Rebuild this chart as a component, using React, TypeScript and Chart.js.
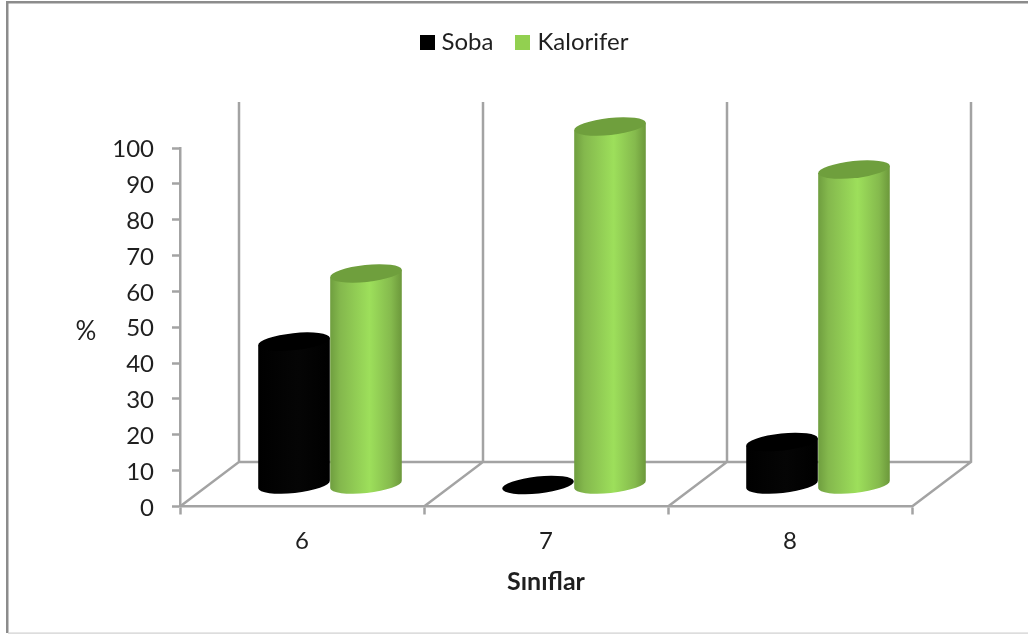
import React, { useEffect, useRef } from "react";
import { Chart, registerables } from "chart.js";

Chart.register(...registerables);

const categories = ["6", "7", "8"];
const sobaValues = [40, 0, 12];
const kaloriferValues = [59, 100, 88];
const seriesNames = ["Soba", "Kalorifer"];
const seriesColors = ["#000000", "#92d050"];
const xTitle = "Sınıflar";
const yTitle = "%";

const FONT = "Lato, Carlito, 'Open Sans', sans-serif";
const TEXT = "#1f1f1f";
const AXIS = "#a3a3a3";
const AXIS_WIDTH = 2.5;

// Oblique projection of the chart box.
const DEPTH_X = 59;
const DEPTH_Y = 44.5;
const WALL_EXTRA = 1.5;

// Offset of a cylinder axis from the front of the box: halfway into the floor.
const BAR_SHIFT_X = 28;
const BAR_SHIFT_Y = 21.5;
const TILT = (-6 * Math.PI) / 180;
const ELLIPSE_RY = 8.5;

// Horizontal offset that centres the legend over the walls rather than the scales.
const LEGEND_SHIFT = 20.5;
const LEGEND_BAND = 145;
const MARKER_SIZE = 15;

const greenStops: [number, string][] = [
  [0, "#6f9e3f"],
  [0.14, "#84b84d"],
  [0.55, "#9ddf5b"],
  [0.85, "#85ba4d"],
  [1, "#6c983b"],
];
const blackStops: [number, string][] = [
  [0, "#000000"],
  [0.55, "#050505"],
  [1, "#000000"],
];

function cylinder(
  ctx: CanvasRenderingContext2D,
  cx: number,
  topY: number,
  baseY: number,
  rx: number,
  stops: [number, string][],
  capColor: string
) {
  const ex = rx * Math.cos(TILT);
  const ey = rx * Math.sin(TILT);
  if (baseY - topY > 0.5) {
    const g = ctx.createLinearGradient(cx - ex, 0, cx + ex, 0);
    stops.forEach(([p, c]) => g.addColorStop(p, c));
    ctx.fillStyle = g;
    ctx.beginPath();
    ctx.moveTo(cx - ex, topY - ey);
    ctx.lineTo(cx - ex, baseY - ey);
    ctx.ellipse(cx, baseY, rx, ELLIPSE_RY, TILT, Math.PI, 0, true);
    ctx.lineTo(cx + ex, topY + ey);
    ctx.closePath();
    ctx.fill();
  }
  ctx.fillStyle = capColor;
  ctx.beginPath();
  ctx.ellipse(cx, topY, rx, ELLIPSE_RY, TILT, 0, Math.PI * 2);
  ctx.fill();
}

function legendMarker(color: string) {
  const c = document.createElement("canvas");
  c.width = MARKER_SIZE;
  c.height = MARKER_SIZE;
  const g = c.getContext("2d")!;
  g.fillStyle = color;
  g.fillRect(0, 0, MARKER_SIZE, MARKER_SIZE);
  return c;
}

const box3d = {
  id: "box3d",
  beforeLayout(chart: any) {
    // The legend reserves the whole band above the plot.
    const legend = chart.legend;
    if (legend && !legend.__band) {
      const fit = legend.fit;
      legend.fit = function () {
        fit.call(this);
        this.height = LEGEND_BAND;
      };
      legend.__band = true;
    }
  },
  afterLayout(chart: any) {
    chart.legend.left += LEGEND_SHIFT;
    chart.legend.right += LEGEND_SHIFT;
  },
  beforeDraw(chart: any) {
    const { ctx, width } = chart;
    ctx.save();
    ctx.fillStyle = "#ffffff";
    ctx.fillRect(0, 0, width, chart.height);
    ctx.fillStyle = "#8c8c8c";
    ctx.fillRect(6, 1, width - 6, 2.5);
    ctx.fillRect(6, 1, 2.5, 632);
    ctx.fillStyle = "#cfcfcf";
    ctx.fillRect(8, 632.5, width - 8, 1.2);
    ctx.restore();
  },
  beforeDatasetsDraw(chart: any) {
    const { ctx, chartArea } = chart;
    const step = (chartArea.right - chartArea.left) / categories.length;
    ctx.save();
    ctx.strokeStyle = AXIS;
    ctx.lineWidth = AXIS_WIDTH;
    ctx.beginPath();
    for (let i = 0; i <= categories.length; i++) {
      const px = chartArea.left + step * i;
      ctx.moveTo(px, chartArea.bottom);
      ctx.lineTo(px + DEPTH_X, chartArea.bottom - DEPTH_Y);
      ctx.lineTo(px + DEPTH_X, chartArea.top - DEPTH_Y - WALL_EXTRA);
    }
    ctx.moveTo(chartArea.left + DEPTH_X, chartArea.bottom - DEPTH_Y);
    ctx.lineTo(chartArea.right + DEPTH_X, chartArea.bottom - DEPTH_Y);
    ctx.stroke();
    ctx.restore();
  },
  beforeDatasetDraw() {
    // Flat rectangles are replaced by the cylinders below.
    return false;
  },
  afterDatasetsDraw(chart: any) {
    const { ctx } = chart;
    ctx.save();
    chart.data.datasets.forEach((_: any, di: number) => {
      const meta = chart.getDatasetMeta(di);
      meta.data.forEach((bar: any) => {
        cylinder(
          ctx,
          bar.x + BAR_SHIFT_X,
          bar.y - BAR_SHIFT_Y,
          bar.base - BAR_SHIFT_Y,
          bar.width / 2,
          di === 0 ? blackStops : greenStops,
          di === 0 ? "#000000" : "#6f9f3d"
        );
      });
    });
    ctx.restore();
  },
  afterDraw(chart: any) {
    const { ctx } = chart;
    ctx.save();
    ctx.fillStyle = TEXT;
    ctx.font = `26px ${FONT}`;
    ctx.textAlign = "center";
    ctx.textBaseline = "middle";
    ctx.fillText(yTitle, 86, 332);
    ctx.restore();
  },
};

export default function App() {
  const ref = useRef<HTMLCanvasElement>(null);

  useEffect(() => {
    if (!ref.current) return;
    const markers = seriesColors.map(legendMarker);
    const chart = new Chart(ref.current, {
      type: "bar",
      data: {
        labels: categories,
        datasets: [
          { label: seriesNames[0], data: sobaValues, backgroundColor: seriesColors[0] },
          { label: seriesNames[1], data: kaloriferValues, backgroundColor: seriesColors[1] },
        ],
      },
      plugins: [box3d],
      options: {
        animation: false,
        responsive: false,
        layout: { padding: { left: 100, right: 116, top: 3, bottom: 0 } },
        datasets: { bar: { barPercentage: 1, categoryPercentage: 0.59 } },
        plugins: {
          tooltip: { enabled: false },
          legend: {
            position: "top",
            labels: {
              usePointStyle: true,
              pointStyleWidth: 5,
              padding: 27,
              color: TEXT,
              font: { family: FONT, size: 24 },
              generateLabels(chart: any) {
                return Chart.defaults.plugins.legend.labels
                  .generateLabels(chart)
                  .map((item: any, i: number) => ({ ...item, pointStyle: markers[i] }));
              },
            },
          },
        },
        scales: {
          x: {
            afterFit(scale: any) {
              scale.height = 130.5;
            },
            grid: { drawOnChartArea: false, drawTicks: true, tickLength: 8, tickColor: AXIS, tickWidth: AXIS_WIDTH },
            border: { display: true, color: AXIS, width: AXIS_WIDTH },
            ticks: { color: TEXT, font: { family: FONT, size: 24 }, padding: 12 },
            title: {
              display: true,
              text: xTitle,
              color: TEXT,
              font: { family: FONT, size: 25, weight: "bold", lineHeight: 1.2 },
              padding: { top: 0, bottom: 40 },
            },
          },
          y: {
            min: 0,
            max: 100,
            afterFit(scale: any) {
              scale.width = 80;
            },
            grid: { drawOnChartArea: false, drawTicks: true, tickLength: 8, tickColor: AXIS, tickWidth: AXIS_WIDTH },
            border: { display: true, color: AXIS, width: AXIS_WIDTH },
            ticks: { stepSize: 10, color: TEXT, font: { family: FONT, size: 24 }, padding: 18, labelOffset: 1.5 },
          },
        },
      },
    } as any);
    return () => chart.destroy();
  }, []);

  return (
    <div style={{ position: "fixed", left: 0, top: 0, width: 1028, height: 637, background: "#fff" }}>
      <canvas ref={ref} width={1028} height={637} style={{ display: "block" }} />
    </div>
  );
}
